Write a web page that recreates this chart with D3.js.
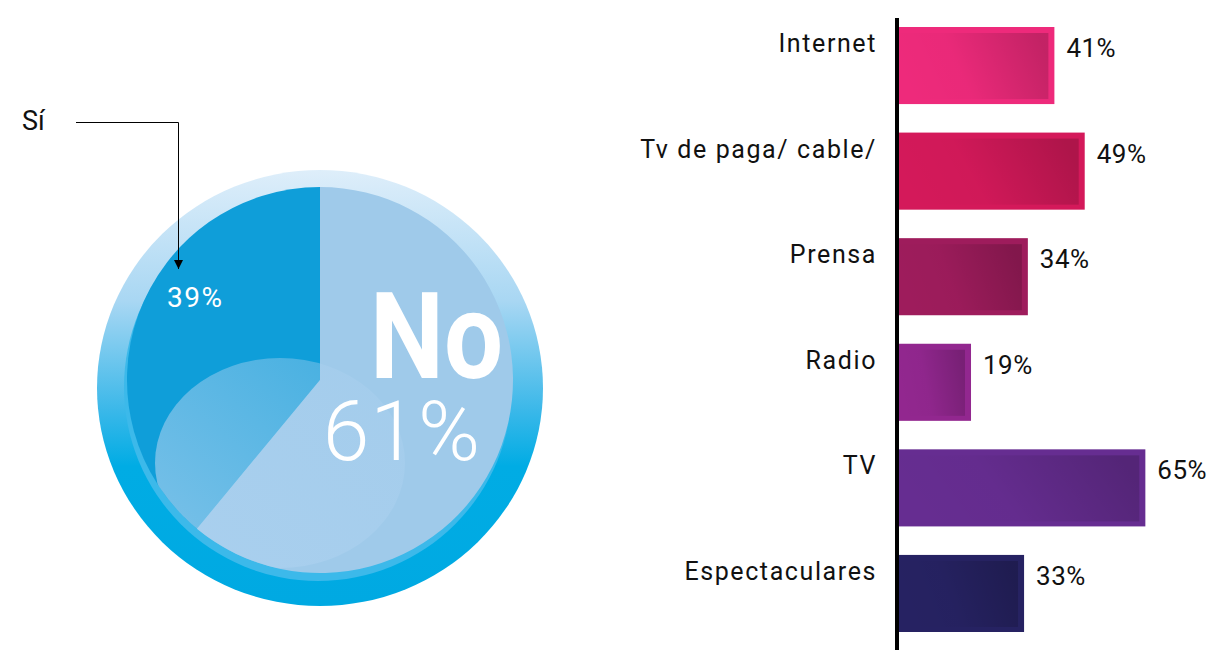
<!DOCTYPE html>
<html>
<head>
<meta charset="utf-8">
<script src="https://cdn.jsdelivr.net/npm/d3@7"></script>
<style>
  body { margin: 0; background: #fff; }
  svg { display: block; }
  text { font-family: Roboto, "DejaVu Sans", sans-serif; }
</style>
</head>
<body>
<script>
// pie data
const pieLabels = ['Sí', 'No'];
const pieValues = [39, 61];

// bar data
const medios = ['Internet', 'Tv de paga/ cable/', 'Prensa', 'Radio', 'TV', 'Espectaculares'];
const porcentajes = [41, 49, 34, 19, 65, 33];
const colores = ['#ee2a7b', '#d4195a', '#9e1c5c', '#92278f', '#662d91', '#262262'];

const W = 1208, H = 650;
const svg = d3.select('body').append('svg').attr('width', W).attr('height', H);
const defs = svg.append('defs');

/* ---------- pie ---------- */
const cx = 320, cy = 380, r = 193;

let ringGrad = defs.append('linearGradient').attr('id', 'ring')
  .attr('x1', 0).attr('y1', 0).attr('x2', 0).attr('y2', 1);
ringGrad.append('stop').attr('offset', '0%').attr('stop-color', '#deeefa');
ringGrad.append('stop').attr('offset', '30%').attr('stop-color', '#a9d7f3');
ringGrad.append('stop').attr('offset', '55%').attr('stop-color', '#3bb8e9');
ringGrad.append('stop').attr('offset', '68%').attr('stop-color', '#00ace4');
ringGrad.append('stop').attr('offset', '100%').attr('stop-color', '#00a9e2');

defs.append('clipPath').attr('id', 'ringClip')
  .append('rect').attr('x', 0).attr('y', 0).attr('width', 543).attr('height', H);

svg.append('ellipse')
  .attr('cx', cx).attr('cy', 388).attr('rx', 223).attr('ry', 218)
  .attr('fill', 'url(#ring)')
  .attr('clip-path', 'url(#ringClip)');

// thin light rim under the pie
svg.append('circle').attr('cx', cx - 2).attr('cy', cy + 7).attr('r', r + 1)
  .attr('fill', '#3cb9ea');

let pie = d3.pie().sort(null).startAngle(0).endAngle(-2 * Math.PI);
let arc = d3.arc().innerRadius(0).outerRadius(r);
let sliceColor = d3.scaleOrdinal().domain(pieLabels).range(['#0f9ed9', '#9fcaea']);

let pieG = svg.append('g').attr('transform', `translate(${cx},${cy})`);
let arcs = pie(pieValues);
pieG.selectAll('path.slice').data(arcs).join('path')
  .attr('class', 'slice')
  .attr('d', arc)
  .attr('fill', (d, i) => sliceColor(pieLabels[i]));

// soft highlight in lower part
defs.append('clipPath').attr('id', 'pieClip')
  .append('circle').attr('cx', 0).attr('cy', 0).attr('r', r);
let hl = defs.append('linearGradient').attr('id', 'hl')
  .attr('x1', 0).attr('y1', 1).attr('x2', 1).attr('y2', 0);
hl.append('stop').attr('offset', '0%').attr('stop-color', '#aed2f0').attr('stop-opacity', 0.7);
hl.append('stop').attr('offset', '100%').attr('stop-color', '#aed2f0').attr('stop-opacity', 0.3);
pieG.append('ellipse')
  .attr('cx', -40).attr('cy', 83).attr('rx', 125).attr('ry', 105)
  .attr('fill', 'url(#hl)')
  .attr('clip-path', 'url(#pieClip)');

// labels in the pie (one text, two lines)
let big = pieG.append('text')
  .attr('text-anchor', 'end')
  .attr('fill', '#fff');
big.append('tspan')
  .attr('x', 183).attr('y', -2)
  .attr('font-weight', 700)
  .attr('font-size', 120)
  .attr('textLength', 133).attr('lengthAdjust', 'spacingAndGlyphs')
  .text(pieLabels[1]);
big.append('tspan')
  .attr('x', 161).attr('y', 80)
  .attr('font-weight', 300)
  .attr('font-size', 84)
  .attr('letter-spacing', 1)
  .text(pieValues[1] + '%');
pieG.append('text')
  .attr('x', -153).attr('y', -73)
  .attr('fill', '#fff')
  .attr('font-size', 28)
  .attr('letter-spacing', 1.5)
  .text(pieValues[0] + '%');

// "Sí" callout
svg.append('text')
  .attr('x', 22).attr('y', 130)
  .attr('font-size', 27)
  .attr('fill', '#111')
  .text(pieLabels[0]);
defs.append('marker').attr('id', 'arrow')
  .attr('viewBox', '0 0 10 10').attr('refX', 10).attr('refY', 5)
  .attr('markerWidth', 9).attr('markerHeight', 9).attr('orient', 'auto')
  .attr('markerUnits', 'userSpaceOnUse')
  .append('path').attr('d', 'M0,0L10,5L0,10Z').attr('fill', '#000');
svg.append('path')
  .attr('d', d3.line()([[76, 122.5], [178.5, 122.5], [178.5, 269]]))
  .attr('fill', 'none').attr('stroke', '#000').attr('stroke-width', 1)
  .attr('marker-end', 'url(#arrow)');

/* ---------- bars ---------- */
const x0 = 899;
let x = d3.scaleLinear().domain([0, 100]).range([x0, x0 + 379]);
let y = d3.scaleBand().domain(medios).range([27, 632]).paddingInner(0.27).paddingOuter(0);

colores.forEach((c, i) => {
  let g = defs.append('linearGradient').attr('id', 'sh' + i)
    .attr('x1', 0).attr('y1', 0.6).attr('x2', 1).attr('y2', 0.4);
  g.append('stop').attr('offset', '0%').attr('stop-color', '#000').attr('stop-opacity', 0);
  g.append('stop').attr('offset', '40%').attr('stop-color', '#000').attr('stop-opacity', 0.02);
  g.append('stop').attr('offset', '100%').attr('stop-color', '#000').attr('stop-opacity', 0.18);
});

let bars = svg.append('g').selectAll('g').data(medios).join('g');
bars.append('rect')
  .attr('x', x0)
  .attr('y', d => y(d))
  .attr('width', (d, i) => x(porcentajes[i]) - x0)
  .attr('height', y.bandwidth())
  .attr('fill', (d, i) => colores[i]);
bars.append('rect')
  .attr('x', x0)
  .attr('y', d => y(d) + 6)
  .attr('width', (d, i) => x(porcentajes[i]) - x0 - 6)
  .attr('height', y.bandwidth() - 11)
  .attr('fill', (d, i) => `url(#sh${i})`);

bars.append('text')
  .attr('x', (d, i) => x(porcentajes[i]) + 12)
  .attr('y', d => y(d) + 30)
  .attr('font-size', 26)
  .attr('letter-spacing', 0.5)
  .attr('fill', '#111')
  .text((d, i) => porcentajes[i] + '%');

bars.append('text')
  .attr('x', 877)
  .attr('y', d => y(d) + 25)
  .attr('text-anchor', 'end')
  .attr('font-size', 25)
  .attr('letter-spacing', 1.6)
  .attr('fill', '#111')
  .text(d => d);

// vertical axis line
svg.append('line')
  .attr('x1', 897).attr('x2', 897).attr('y1', 18).attr('y2', 650)
  .attr('stroke', '#000').attr('stroke-width', 4);
</script>
</body>
</html>
